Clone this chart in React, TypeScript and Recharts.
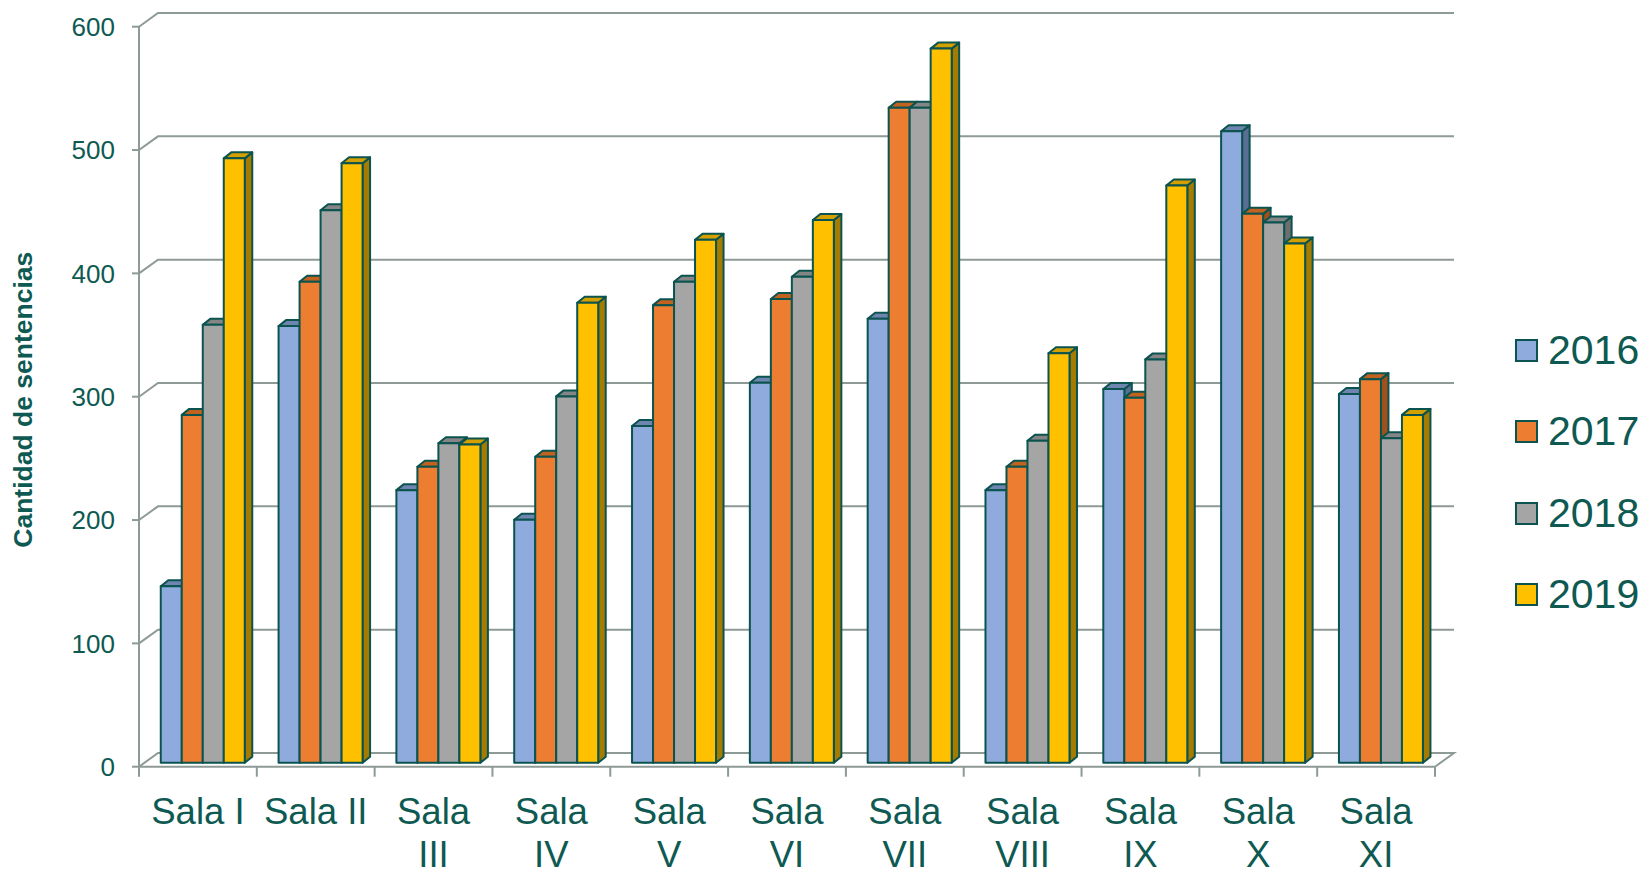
import { BarChart, Bar, XAxis, YAxis, CartesianGrid, Legend } from "recharts";

const categories = [
  "Sala I",
  "Sala II",
  "Sala III",
  "Sala IV",
  "Sala V",
  "Sala VI",
  "Sala VII",
  "Sala VIII",
  "Sala IX",
  "Sala X",
  "Sala XI",
];

// label lines as Excel wrapped them
const tickLabels = [
  ["Sala I"],
  ["Sala II"],
  ["Sala", "III"],
  ["Sala", "IV"],
  ["Sala", "V"],
  ["Sala", "VI"],
  ["Sala", "VII"],
  ["Sala", "VIII"],
  ["Sala", "IX"],
  ["Sala", "X"],
  ["Sala", "XI"],
];

const years = ["2016", "2017", "2018", "2019"];
const values2016 = [143, 354, 221, 197, 273, 308, 360, 221, 303, 512, 299];
const values2017 = [282, 390, 240, 248, 371, 376, 531, 240, 296, 445, 311];
const values2018 = [355, 448, 259, 297, 390, 394, 531, 261, 327, 438, 263];
const values2019 = [490, 486, 258, 373, 424, 440, 579, 332, 468, 421, 282];
const yTicks = [0, 100, 200, 300, 400, 500, 600];

const data = categories.map((name, i) => ({
  name,
  y2016: values2016[i],
  y2017: values2017[i],
  y2018: values2018[i],
  y2019: values2019[i],
}));

const W = 1647;
const H = 869;
const PLOT_LEFT = 139;
const PLOT_TOP = 26.7;
const PLOT_BOTTOM = 766.7;
const PLOT_RIGHT = 1435;
const X_AXIS_H = 60;

const WALL_DX = 19;
const WALL_DY = 13.7;
const BAR_SHIFT_X = 5.5;
const BAR_SHIFT_Y = -4;
const DEPTH_DX = 7.5;
const DEPTH_DY = 6;

const FONT = "'Liberation Sans', Arial, sans-serif";
const TEXT = "#0E5A52";
const OUTLINE = "#0B534F";
const GRID = "#8E9A96";

const faces = [
  { front: "#8FAADC", top: "#6E85B0", side: "#5A6D92" },
  { front: "#ED7D31", top: "#C2621F", side: "#A0501A" },
  { front: "#A5A5A5", top: "#858585", side: "#6E6E6E" },
  { front: "#FFC000", top: "#D4A000", side: "#A67C00" },
];

const makeBar3D = (k: number) => (props: any) => {
  const { x, y, width, height } = props;
  if (width == null || height == null) return null;
  const fx = x + BAR_SHIFT_X;
  const fy = y + BAR_SHIFT_Y;
  const c = faces[k];
  const front = `M${fx},${fy} h${width} v${height} h${-width} Z`;
  const top = `M${fx},${fy} l${DEPTH_DX},${-DEPTH_DY} h${width} l${-DEPTH_DX},${DEPTH_DY} Z`;
  const side = `M${fx + width},${fy} l${DEPTH_DX},${-DEPTH_DY} v${height} l${-DEPTH_DX},${DEPTH_DY} Z`;
  return (
    <g stroke={OUTLINE} strokeWidth={2} strokeLinejoin="round">
      <path d={side} fill={c.side} />
      <path d={top} fill={c.top} />
      <path d={front} fill={c.front} />
    </g>
  );
};

const wallLine = (p: any) => {
  const { x1, y1, x2 } = p;
  const by = y1 - WALL_DY;
  let d = `M${x1},${y1} L${x1 + WALL_DX},${by} L${x2 + WALL_DX},${by}`;
  if (Math.abs(y1 - PLOT_BOTTOM) < 1) d += ` L${x2},${y1}`;
  return <path key={`wall-${y1}`} d={d} fill="none" stroke={GRID} strokeWidth={2} />;
};

const CategoryTick = (props: any) => {
  const { x, y, index } = props;
  const band = (PLOT_RIGHT - PLOT_LEFT) / categories.length;
  const lines = tickLabels[index] ?? [props.payload?.value];
  return (
    <g>
      <line x1={x - band / 2} y1={y} x2={x - band / 2} y2={y + 10} stroke={GRID} strokeWidth={2} />
      {index === categories.length - 1 && (
        <line x1={x + band / 2} y1={y} x2={x + band / 2} y2={y + 10} stroke={GRID} strokeWidth={2} />
      )}
      <text textAnchor="middle" fill={TEXT} fontSize={36.5} fontFamily={FONT}>
        {lines.map((l, i) => (
          <tspan key={i} x={x} y={y + 57 + i * 43}>
            {l}
          </tspan>
        ))}
      </text>
    </g>
  );
};

const AxisTitle = (props: any) => {
  const vb = props.viewBox || {};
  const cy = (vb.y ?? PLOT_TOP) + (vb.height ?? PLOT_BOTTOM - PLOT_TOP) / 2 + 3;
  const cx = 23;
  return (
    <text
      x={cx}
      y={cy}
      transform={`rotate(-90, ${cx}, ${cy})`}
      textAnchor="middle"
      dominantBaseline="central"
      fill={TEXT}
      fontSize={26.5}
      fontWeight="bold"
      fontFamily={FONT}
    >
      Cantidad de sentencias
    </text>
  );
};

const LegendBox = ({ payload }: any) => (
  <div style={{ fontFamily: FONT }}>
    {(payload ?? []).map((entry: any) => (
      <div key={entry.value} style={{ display: "flex", alignItems: "center", height: 81.5 }}>
        <span
          style={{
            width: 19,
            height: 19,
            background: entry.color,
            border: `2px solid ${OUTLINE}`,
            marginRight: 10,
            flex: "none",
          }}
        />
        <span style={{ fontSize: 41, lineHeight: 1, color: TEXT }}>{entry.value}</span>
      </div>
    ))}
  </div>
);

export default function App() {
  return (
    <div style={{ width: W, height: H, background: "#fff" }}>
      <style>{"body{margin:0}"}</style>
      <BarChart
        width={W}
        height={H}
        data={data}
        margin={{
          top: PLOT_TOP,
          right: W - PLOT_RIGHT,
          left: 0,
          bottom: H - PLOT_BOTTOM - X_AXIS_H,
        }}
        barCategoryGap="13.8%"
        barGap={0}
        style={{ fontFamily: FONT }}
      >
        <CartesianGrid vertical={false} horizontal={wallLine} />
        <XAxis
          dataKey="name"
          height={X_AXIS_H}
          interval={0}
          tickLine={false}
          tickSize={0}
          tickMargin={0}
          axisLine={{ stroke: GRID, strokeWidth: 2 }}
          tick={<CategoryTick />}
        />
        <YAxis
          width={PLOT_LEFT}
          domain={[0, 600]}
          ticks={yTicks}
          interval={0}
          tickSize={7}
          tickMargin={17}
          axisLine={{ stroke: GRID, strokeWidth: 2 }}
          tickLine={{ stroke: GRID, strokeWidth: 2 }}
          tick={{ fill: TEXT, fontSize: 26, fontFamily: FONT }}
          label={(p: any) => <AxisTitle {...p} />}
        />
        <Legend
          layout="vertical"
          align="center"
          verticalAlign="middle"
          content={<LegendBox />}
          wrapperStyle={{ left: 1515, top: 309.5, width: 132 }}
        />
        {years.map((yr, k) => (
          <Bar
            key={yr}
            dataKey={`y${yr}`}
            name={yr}
            fill={faces[k].front}
            shape={makeBar3D(k)}
            isAnimationActive={false}
          />
        ))}
      </BarChart>
    </div>
  );
}
